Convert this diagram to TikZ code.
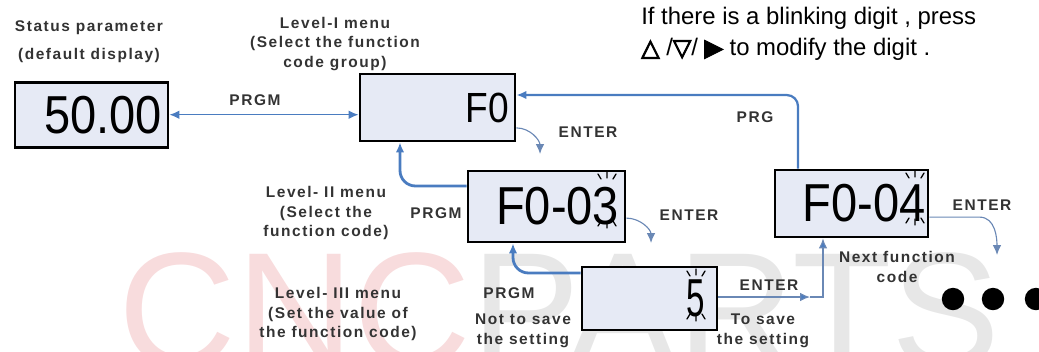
\documentclass[tikz,border=0pt]{standalone}
\usepackage{fontspec}
\setmainfont{Liberation Sans}
\newfontfamily\lblfont[LetterSpace=10]{Liberation Sans}
\newfontfamily\lcdfont[FakeStretch=0.88]{Liberation Sans}
\newfontfamily\narrowfont[FakeStretch=0.62]{Liberation Sans}
\newfontfamily\symfont[FakeBold=4]{DejaVu Sans}
\usetikzlibrary{arrows.meta}

\definecolor{boxfill}{HTML}{E6EAF5}
\definecolor{arrblue}{HTML}{4A7CC0}
\definecolor{entblue}{HTML}{6A88B5}
\definecolor{lblgray}{HTML}{333333}
\definecolor{wmpink}{HTML}{F8DCDD}
\definecolor{wmgray}{HTML}{E7E7E7}

\tikzset{
  dispbox/.style={draw, line width=2pt, fill=boxfill, inner xsep=0.15cm, inner ysep=0pt,
    align=right, font=\lcdfont\fontsize{38}{38}\selectfont},
  lbl/.style={font=\lblfont\bfseries\fontsize{11}{14}\selectfont, text=lblgray, align=center, inner sep=0pt},
  keylbl/.style={lbl},
  thinblue/.style={draw=arrblue, line width=1pt},
  thickblue/.style={draw=arrblue, line width=2pt},
  enterline/.style={draw=entblue, line width=0.8pt},
  rayline/.style={line width=0.9pt, line cap=round},
  tip/.style={-{Latex[length=7pt,width=6pt]}}
}

\begin{document}
\begin{tikzpicture}[x=0.025cm, y=-0.025cm]
    \useasboundingbox (0,0) rectangle (1039,351);
    \clip (0,0) rectangle (1039,351);

    % watermark
    \node[anchor=base west, inner sep=0pt, font=\fontsize{116}{116}\selectfont] (wmark) at (118,366)
      {{\color{wmpink}CNC}{\color{wmgray}PARTS}};

    % display boxes
    \node[dispbox, minimum width=3.825cm, minimum height=1.625cm, text width=3.525cm, yshift=-3pt] (stat) at (91.5,110.5) {50.00};
    \node[dispbox, minimum width=3.875cm, minimum height=1.675cm, text width=3.575cm,
      font=\lcdfont\fontsize{30}{30}\selectfont] (F0) at (437.5,107.5) {F0};
    \node[dispbox, minimum width=3.925cm, minimum height=1.775cm, text width=3.625cm] (F003) at (546.5,206.5) {F0-03};
    \node[dispbox, minimum width=3.375cm, minimum height=1.575cm, inner xsep=0.3cm, text width=2.775cm,
      font=\narrowfont\fontsize{38}{38}\selectfont] (val) at (649.5,298.5) {5};
    \node[dispbox, minimum width=3.825cm, minimum height=1.675cm, inner xsep=0.06cm, text width=3.705cm] (F004) at (851.5,203.5) {F0-04};

    % blinking digit marks
    \foreach \x/\yt/\yb in {607/178/222, 696/275/315, 915/177/219} {
      \draw[rayline] (\x,\yt) -- ++(0,-6) (\x-6,\yt+1) -- ++(-3,-5) (\x+6,\yt+1) -- ++(3,-5);
      \draw[rayline] (\x,\yb) -- ++(0,6) (\x-6,\yb-1) -- ++(-3,5) (\x+6,\yb-1) -- ++(3,5);
    }

    % menu texts
    \node[lbl] (stathead) at (89,42) {Status parameter\\[6pt](default display)};
    \node[lbl] (lvl1) at (335,44) {Level-I menu\\(Select the function\\code group)};
    \node[lbl] (lvl2) at (326,213) {Level- II menu\\(Select the\\function code)};
    \node[lbl] (lvl3) at (338,314) {Level- III menu\\(Set the value of\\the function code)};
    \node[anchor=west, align=left, inner sep=0pt, font=\fontsize{17}{22}\selectfont] (hint) at (641,34)
      {If there is a blinking digit , press\\{\symfont △} /{\symfont ▽}/ {\symfont ▶} to modify the digit .};

    % key names
    \node[keylbl] (k1) at (255,100) {PRGM};
    \node[keylbl] (k2) at (755,117) {PRG};
    \node[keylbl] (k3) at (588,132) {ENTER};
    \node[keylbl] (k4) at (436,213) {PRGM};
    \node[keylbl] (k5) at (689,215) {ENTER};
    \node[keylbl] (k6) at (509,293) {PRGM};
    \node[lbl] (nosave) at (523,331) {Not to save\\the setting};
    \node[keylbl] (k7) at (769,285) {ENTER};
    \node[lbl] (dosave) at (763,331) {To save\\the setting};
    \node[lbl] (nextfc) at (897,267) {Next function\\code};
    \node[keylbl] (k8) at (982,205) {ENTER};

    % turning points
    \coordinate (prgcorner) at (798,95);
    \coordinate (lvl2turn) at (400,186);
    \coordinate (lvl3turn) at (513,273);
    \coordinate (savetip) at (810,297);
    \coordinate (nextup) at (823,297);
    \coordinate (f0entr) at (540,154);
    \coordinate (f3entr) at (651,243);
    \coordinate (f4entr) at (997,255);

    % connectors
    \draw[thinblue, {Latex[length=7pt,width=6pt]}-{Latex[length=7pt,width=6pt]}] (stat.east) -- (stat.east -| F0.west);
    \draw[draw=arrblue, line width=1.6pt, tip, rounded corners=8pt] (F004.north -| prgcorner) -- (prgcorner) -- (F0.east |- prgcorner);
    \draw[thickblue, tip, rounded corners=11pt] (F003.west |- lvl2turn) -- (lvl2turn) -- (F0.south -| lvl2turn);
    \draw[thickblue, tip, rounded corners=11pt] (val.west |- lvl3turn) -- (lvl3turn) -- (F003.south -| lvl3turn);
    \draw[enterline, -{Latex[length=7pt,width=6pt,fill=arrblue]}] (val.east |- savetip) -- (savetip);
    \draw[enterline, -{Latex[length=7pt,width=6pt,fill=arrblue]}] (savetip) -- (nextup) -- (F004.south -| nextup);

    % enter arrows
    \draw[enterline, tip] ([yshift=-0.51cm]F0.east) to[out=0, in=90] (f0entr);
    \draw[enterline, tip] ([yshift=-0.29cm]F003.east) to[out=0, in=90] (f3entr);
    \draw[enterline, tip] ([yshift=-0.34cm]F004.east) -- ++(50,0) to[out=0, in=90] (f4entr);

    % more steps
    \foreach \x in {953,993,1036}
      \fill (\x,299) circle[radius=0.28cm];
\end{tikzpicture}
\end{document}
